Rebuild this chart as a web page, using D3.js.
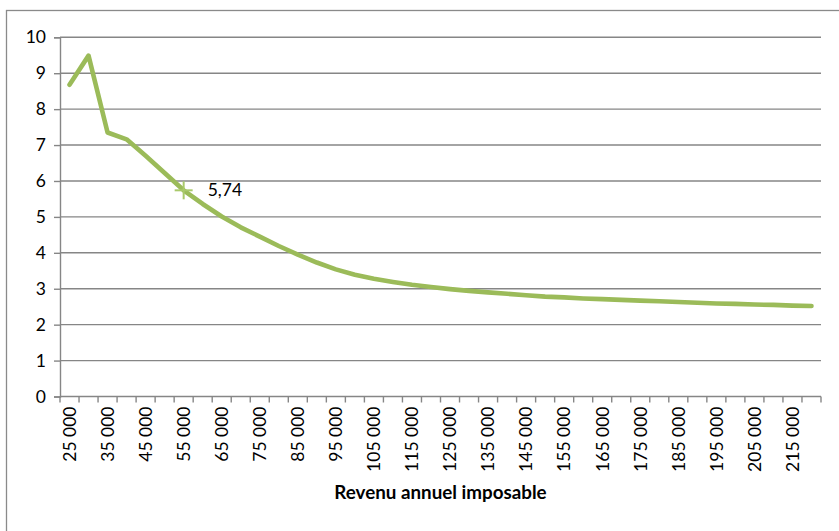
<!DOCTYPE html>
<html>
<head>
<meta charset="utf-8">
<script src="https://cdn.jsdelivr.net/npm/d3@7"></script>
<style>
  html, body { margin: 0; padding: 0; background: #fff; }
  svg { display: block; }
  text { font-family: Lato, "Open Sans", sans-serif; fill: #000; }
</style>
</head>
<body>
<svg id="chart" width="839" height="531"></svg>
<script>
// ---- data ----
const categories = [25000, 30000, 35000, 40000, 45000, 50000, 55000, 60000, 65000, 70000,
  75000, 80000, 85000, 90000, 95000, 100000, 105000, 110000, 115000, 120000,
  125000, 130000, 135000, 140000, 145000, 150000, 155000, 160000, 165000, 170000,
  175000, 180000, 185000, 190000, 195000, 200000, 205000, 210000, 215000, 220000];
const values = [8.68, 9.49, 7.35, 7.16, 6.70, 6.22, 5.74, 5.36, 5.01, 4.71,
  4.45, 4.19, 3.95, 3.73, 3.54, 3.39, 3.28, 3.19, 3.11, 3.05,
  2.99, 2.94, 2.90, 2.86, 2.82, 2.78, 2.76, 2.73, 2.71, 2.69,
  2.67, 2.65, 2.63, 2.61, 2.59, 2.58, 2.56, 2.55, 2.53, 2.52];
const xTickLabels = [25000, 35000, 45000, 55000, 65000, 75000, 85000, 95000, 105000, 115000,
  125000, 135000, 145000, 155000, 165000, 175000, 185000, 195000, 205000, 215000];
const yTicks = [0, 1, 2, 3, 4, 5, 6, 7, 8, 9, 10];
const labeledCategory = 55000;
const labeledText = "5,74";
const xTitle = "Revenu annuel imposable";

(function () {
// ---- layout ----
const svg = d3.select("#chart");
const pL = 60, pR = 821, pT = 37.3, pB = 396.5;
const gridColor = "#868686";
const lineColor = "#9BBB59";

const x = d3.scaleBand().domain(categories).range([pL, pR]).padding(0);
const y = d3.scaleLinear().domain([0, 10]).range([pB, pT]);

// outer border (right/bottom edges fall outside the view)
svg.append("rect")
  .attr("x", 6.5).attr("y", 10.5)
  .attr("width", 900).attr("height", 600)
  .attr("fill", "none").attr("stroke", "#8a8a8a").attr("stroke-width", 1.3);

// horizontal gridlines
svg.append("g").selectAll("line").data(yTicks.filter(d => d > 0)).join("line")
  .attr("x1", pL).attr("x2", pR)
  .attr("y1", d => y(d)).attr("y2", d => y(d))
  .attr("stroke", gridColor).attr("stroke-width", 1.4);

// y axis
const yAxis = d3.axisLeft(y).tickValues(yTicks).tickSize(6).tickPadding(8)
  .tickFormat(d => String(d));
const gy = svg.append("g").attr("transform", `translate(${pL},0)`).call(yAxis);
gy.select(".domain").attr("stroke", gridColor).attr("stroke-width", 1.4);
gy.selectAll(".tick line").attr("stroke", gridColor).attr("stroke-width", 1.4);
gy.selectAll(".tick text").attr("font-size", 17.5).attr("font-family", "Lato").attr("fill", "#000");

// x axis: line, boundary ticks, rotated labels
svg.append("line")
  .attr("x1", pL).attr("x2", pR).attr("y1", pB).attr("y2", pB)
  .attr("stroke", gridColor).attr("stroke-width", 1.4);
const boundaries = categories.map(c => x(c)).concat([x(categories[categories.length - 1]) + x.bandwidth()]);
svg.append("g").selectAll("line").data(boundaries).join("line")
  .attr("x1", d => d).attr("x2", d => d)
  .attr("y1", pB).attr("y2", pB + 6)
  .attr("stroke", gridColor).attr("stroke-width", 1.4);

const fmt = d => d3.format(",")(d).replace(/,/g, " ");
const xAxis = d3.axisBottom(x).tickValues(xTickLabels).tickSize(0).tickFormat(fmt);
const gx = svg.append("g").attr("transform", `translate(0,${pB})`).call(xAxis);
gx.select(".domain").remove();
gx.selectAll(".tick text")
  .attr("font-size", 17.5).attr("font-family", "Lato").attr("fill", "#000")
  .attr("text-anchor", "end")
  .attr("transform", "rotate(-90)")
  .attr("x", -10).attr("y", 0).attr("dy", "0.36em");

// axis title
svg.append("text")
  .attr("x", (pL + pR) / 2).attr("y", 499)
  .attr("text-anchor", "middle")
  .attr("font-size", 18.8).attr("font-weight", "bold")
  .text(xTitle);

// data line
const cx = d => x(d) + x.bandwidth() / 2;
const line = d3.line().x((d, i) => cx(categories[i])).y(d => y(d));
svg.append("path")
  .datum(values)
  .attr("d", line)
  .attr("fill", "none").attr("stroke", lineColor)
  .attr("stroke-width", 4.6).attr("stroke-linejoin", "round").attr("stroke-linecap", "round");

// labeled point marker
const li = categories.indexOf(labeledCategory);
const px = cx(labeledCategory), py = y(values[li]);
const mk = svg.append("g").attr("transform", `translate(${px},${py})`);
mk.append("line").attr("x1", -9).attr("x2", 9).attr("y1", 0).attr("y2", 0)
  .attr("stroke", "#a9c96b").attr("stroke-width", 2);
mk.append("line").attr("x1", 0).attr("x2", 0).attr("y1", -9).attr("y2", 9)
  .attr("stroke", "#a9c96b").attr("stroke-width", 2);
svg.append("text")
  .attr("x", px + 24).attr("y", py + 6)
  .attr("font-size", 17.5)
  .text(labeledText);
})();
</script>
</body>
</html>
